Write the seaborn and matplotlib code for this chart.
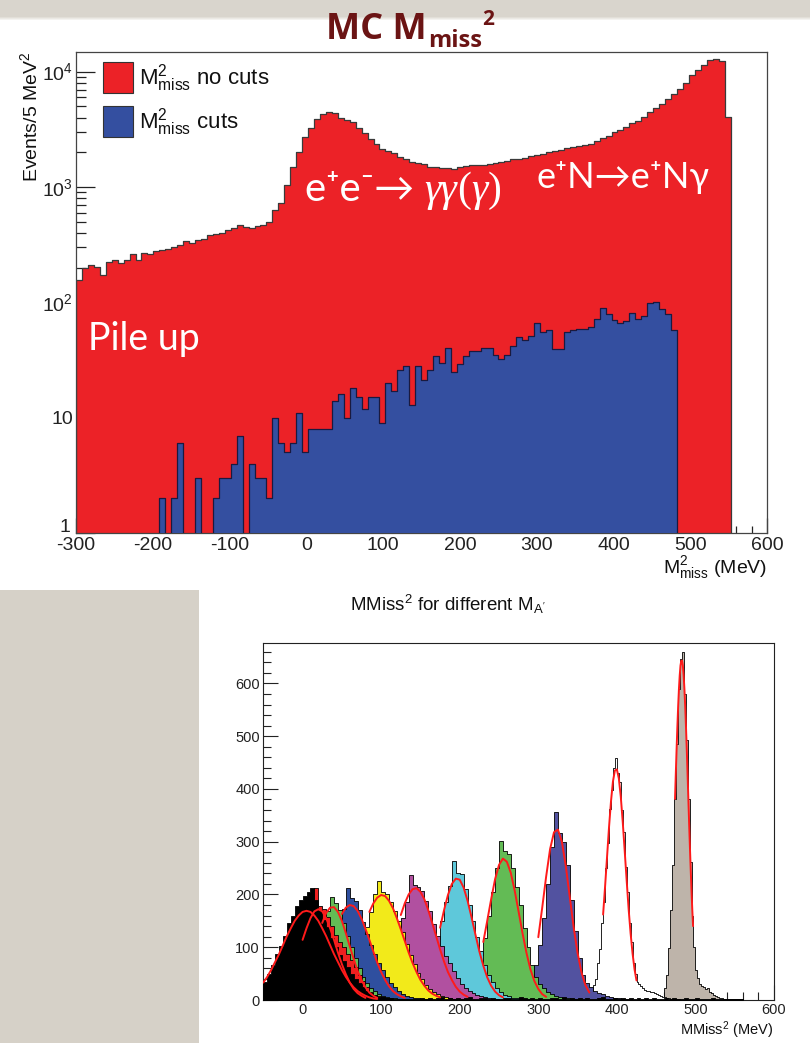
import numpy as np
import matplotlib
matplotlib.use('Agg')
import matplotlib.pyplot as plt
import seaborn as sns
from matplotlib.patches import Rectangle
from matplotlib.ticker import MultipleLocator, FixedLocator, FixedFormatter, NullFormatter

# ---------------- top panel: M2miss, 7.75 MeV bins from -300 MeV ----------------
mm_bin0 = -300.0
mm_binw = 7.75
mm_nocuts = [155, 198, 209, 202, 171, 223, 231, 221, 231, 260,
             231, 267, 264, 278, 285, 292, 301, 312, 338, 326,
             349, 351, 380, 390, 398, 420, 437, 464, 446, 437,
             455, 470, 496, 626, 720, 1030, 1484, 2000, 2700, 3260,
             3894, 4303, 4443, 4355, 3973, 3800, 3639, 3258, 2925, 2614,
             2366, 2142, 2071, 1963, 1813, 1731, 1640, 1621, 1588, 1504,
             1483, 1466, 1454, 1438, 1483, 1514, 1557, 1566, 1557, 1588,
             1621, 1640, 1673, 1731, 1755, 1790, 1849, 1902, 1940, 2029,
             2071, 2100, 2185, 2212, 2287, 2330, 2366, 2527, 2669, 2793,
             2981, 3127, 3294, 3567, 3765, 4077, 4443, 4852, 5254, 5802,
             6413, 7087, 7920, 9420, 10350, 11500, 12630, 12890, 12280, 4077]
mm_cuts_first = 14
mm_cuts = [2, 0, 2, 6, 0, 0, 3, 0, 0, 2, 3, 3, 4, 7, 0, 4, 3, 3, 2, 10, 6, 5, 6,
           11, 5, 8, 8, 8, 8, 14, 16, 10, 18, 15, 12, 15, 15, 9, 20, 17, 26, 28, 13,
           28, 21, 26, 34, 30, 40, 25, 29, 34, 38, 38, 40, 40, 35, 32, 35, 42, 50,
           47, 51, 66, 55, 58, 39, 39, 55, 58, 59,
           59, 61, 71, 89, 79, 70, 66, 69, 81, 72, 76, 99, 100, 88, 79, 57]

# ---------------- bottom panel: MMiss2 for the different A' masses ----------------
black_start, black_w = -50, 5
black_counts = [35, 50, 66, 88, 102, 122, 145, 160, 178, 190, 198, 204, 212, 190, 170,
                152, 138, 118, 100, 86, 74, 62, 50, 40, 32, 25, 18, 13, 9, 6, 5, 4, 3, 2,
                2, 1, 1, 1, 1, 1,
                3, 2, 4, 1, 3, 5, 2, 3, 1, 4, 2, 3, 5, 2, 1, 3, 4, 2, 3, 1,
                2, 4, 3, 1, 2, 5, 3, 2, 4, 1, 3, 2, 1, 4, 3, 2, 5, 1, 3, 2,
                4, 2, 3, 1, 2, 3, 5, 2, 1, 3, 2, 4, 1, 3, 2, 3, 1, 4, 2, 3,
                1, 2, 3, 2, 4, 1, 2, 3, 1, 2, 3, 1, 2, 1, 3, 2, 1, 2, 1, 1, 1, 1]
red_start, red_w = -20, 5
red_counts = [43, 60, 88, 108, 138, 152, 180, 212, 178, 172, 158, 140, 124, 110, 100, 88,
              76, 62, 48, 36, 24, 16, 10, 7, 5, 3, 2]
greena_start, greena_w = 0, 5
greena_counts = [30, 45, 65, 90, 118, 145, 168, 196, 184, 170, 146, 122, 100, 80, 60, 44,
                 32, 23, 17, 12, 8, 5, 4, 3, 2, 1, 1]
blue_start, blue_w = 20, 5
blue_counts = [20, 32, 50, 75, 105, 140, 172, 212, 194, 188, 170, 148, 125, 104, 88, 70,
               56, 44, 32, 24, 17, 12, 8, 6, 4, 3, 2, 1, 1]
yellow_start, yellow_w = 50, 5
yellow_counts = [20, 30, 44, 62, 84, 110, 138, 166, 200, 226, 204, 200, 186, 168, 150, 128,
                 106, 86, 68, 52, 40, 28, 20, 15, 11, 7, 5, 3, 2, 1, 1]
magenta_start, magenta_w = 90, 5
magenta_counts = [18, 28, 40, 56, 76, 100, 126, 156, 186, 236, 218, 214, 206, 188, 168, 144,
                  122, 102, 84, 70, 55, 42, 31, 23, 17, 13, 10, 7, 5, 3, 2, 1]
cyan_start, cyan_w = 145, 5
cyan_counts = [16, 26, 40, 60, 86, 116, 150, 186, 216, 264, 240, 238, 210, 180, 150, 120,
               92, 66, 48, 34, 23, 15, 10, 7, 4, 3, 2, 1, 1]
greenb_start, greenb_w = 200, 5
greenb_counts = [10, 16, 26, 40, 60, 86, 118, 160, 204, 250, 302, 282, 276, 250, 214, 180,
                 136, 100, 66, 44, 30, 22, 16, 12, 8, 6, 4, 3, 2, 1, 1]
indigo_start, indigo_w = 275, 5
indigo_counts = [8, 14, 24, 40, 66, 104, 156, 220, 290, 356, 316, 300, 256, 190, 130, 80,
                 48, 32, 24, 18, 14, 11, 8, 6, 4, 3, 2, 1]
white_start, white_w = 365, 2.5
white_counts = [9, 16, 28, 40, 70, 96, 145, 186, 250, 298, 362, 398, 440, 458, 430, 414,
                360, 318, 252, 205, 146, 110, 70, 50, 34, 30, 26, 22, 19, 18, 17, 16,
                15, 13, 11, 9, 8, 6, 5, 4, 3, 2, 2, 1, 1, 1]
gray_start, gray_w = 460, 2.5
gray_counts = [22, 48, 98, 170, 255, 380, 486, 590, 646, 660, 580, 492, 380, 262, 160, 100,
               56, 42, 30, 26, 24, 20, 22, 16, 14, 10, 7, 5, 4, 3, 2, 2, 1, 1, 1, 1, 1, 1, 1, 1]

# gaussian fits (start, step, values)
black_fit = (-50, 5, [33, 44, 57, 72, 87, 104, 121, 136, 150, 160, 167, 169, 167, 160, 150,
                      136, 121, 104, 87, 72, 57, 44, 33, 24, 17, 12, 8, 5, 3, 2])
red_fit = (0, 5, [114, 136, 155, 168, 172, 168, 155, 136, 114, 90, 68, 49, 33, 21, 13, 8, 4])
greena_fit = (25, 5, [146, 165, 175, 176, 167, 150, 127, 102, 78, 55, 38, 24, 14, 8, 4])
blue_fit = (50, 5, [163, 175, 180, 178, 169, 154, 135, 114, 92, 71, 53, 38, 26, 17, 11, 7, 4])
yellow_fit = (85, 5, [167, 183, 194, 199, 197, 188, 174, 155, 134, 112, 90, 70, 53, 38, 27,
                      18, 12, 8, 5])
magenta_fit = (125, 5, [161, 183, 200, 210, 212, 205, 191, 170, 146, 121, 96, 73, 53, 38, 25,
                        16, 10, 6])
cyan_fit = (175, 5, [137, 170, 199, 220, 230, 228, 213, 188, 157, 124, 92, 65, 43, 27, 16, 9, 5])
greenb_fit = (230, 5, [110, 150, 191, 229, 256, 268, 262, 241, 207, 167, 126, 89, 58, 36, 21,
                       11, 6])
indigo_fit = (300, 5, [119, 175, 234, 286, 318, 323, 300, 254, 196, 138, 89, 52, 28, 14])
white_fit = (382.5, 2.5, [162, 215, 271, 327, 376, 414, 435, 437, 420, 385, 337, 282, 226,
                          172, 126, 88, 58, 37])
gray_fit = (474, 1, [381, 428, 474, 517, 556, 589, 615, 634, 643, 643, 634, 615, 589, 556,
                     517, 474, 428, 381, 334, 289, 247, 207, 171, 140])

# ---------------- style ----------------
sns.set_theme(style='ticks')
plt.rcParams['font.family'] = ['Liberation Sans', 'DejaVu Sans']
plt.rcParams['mathtext.fontset'] = 'custom'
plt.rcParams['mathtext.rm'] = 'Liberation Sans'
plt.rcParams['mathtext.it'] = 'Liberation Sans:italic'
plt.rcParams['mathtext.bf'] = 'Liberation Sans:bold'
plt.rcParams['axes.unicode_minus'] = False

W, H = 810, 1043
fig = plt.figure(figsize=(W / 100, H / 100), dpi=100)
fig.patch.set_facecolor('white')


def hist(ax, start, width, counts, face, edge='black', lw=0.6, z=2):
    counts = np.asarray(counts, dtype=float)
    mids = start + width * (np.arange(len(counts)) + 0.5)
    sns.histplot(x=mids, weights=counts, binwidth=width,
                 binrange=(start, start + width * len(counts)),
                 element='step', fill=True, common_bins=False, common_norm=False,
                 color=face, alpha=1, edgecolor=edge, linewidth=lw, zorder=z, ax=ax)


def fit(ax, spec):
    start, step, vals = spec
    xs = start + step * np.arange(len(vals))
    sns.lineplot(x=xs, y=vals, color='#ff1a1a', linewidth=1.4, zorder=30, ax=ax, legend=False)


# ---------------- top chart ----------------
ax1 = fig.add_axes([76 / W, 1 - 533 / H, (767 - 76) / W, (533 - 52) / H])
hist(ax1, mm_bin0, mm_binw, mm_nocuts, '#ec2227', edge='#3a3a3a', lw=0.9, z=2)
hist(ax1, mm_bin0 + mm_cuts_first * mm_binw, mm_binw, mm_cuts, '#344fa0',
     edge='#1a1a40', lw=0.9, z=3)
ax1.set_yscale('log')
ax1.set_xlim(-300, 600)
ax1.set_ylim(1, 14800)
ax1.set_xlabel('')
ax1.set_ylabel('')
ax1.xaxis.set_major_locator(MultipleLocator(100))
ax1.xaxis.set_minor_locator(MultipleLocator(20))
ax1.yaxis.set_major_locator(FixedLocator([1, 10, 100, 1000, 10000]))
# the "1" label is placed by hand a little higher, as in the original
ax1.yaxis.set_major_formatter(FixedFormatter(['', '10', '$10^{2}$', '$10^{3}$', '$10^{4}$']))
minor = [m * 10 ** d for d in range(0, 5) for m in range(2, 10)]
ax1.yaxis.set_minor_locator(FixedLocator(minor))
ax1.yaxis.set_minor_formatter(NullFormatter())
ax1.tick_params(which='both', direction='in', top=False, right=False, colors='#222222',
                labelsize=14)
ax1.tick_params(axis='y', which='major', length=13.5, width=0.9, pad=2)
ax1.tick_params(axis='y', which='minor', length=7, width=0.9)
ax1.tick_params(axis='x', which='major', length=10.5, width=0.9, pad=3)
ax1.tick_params(axis='x', which='minor', length=5, width=0.9)
for s in ax1.spines.values():
    s.set_color('#444444')
    s.set_linewidth(0.9)

# ---------------- bottom chart (right-hand peaks drawn first) ----------------
ax2 = fig.add_axes([263.3 / W, 1 - 1000 / H, (774 - 263.3) / W, (1000 - 643.3) / H])
hist(ax2, gray_start, gray_w, gray_counts, '#beb4aa', z=2)
hist(ax2, white_start, white_w, white_counts, '#ffffff', z=3)
hist(ax2, indigo_start, indigo_w, indigo_counts, '#5252a0', z=4)
hist(ax2, greenb_start, greenb_w, greenb_counts, '#63bb55', z=5)
hist(ax2, cyan_start, cyan_w, cyan_counts, '#5ec8da', z=6)
hist(ax2, magenta_start, magenta_w, magenta_counts, '#b150a0', z=7)
hist(ax2, yellow_start, yellow_w, yellow_counts, '#f2ea1a', z=8)
hist(ax2, blue_start, blue_w, blue_counts, '#2f4f9f', z=9)
hist(ax2, greena_start, greena_w, greena_counts, '#63bb55', z=10)
hist(ax2, red_start, red_w, red_counts, '#ee2020', z=11)
hist(ax2, black_start, black_w, black_counts, '#000000', z=12)
for spec in [black_fit, red_fit, greena_fit, blue_fit, yellow_fit, magenta_fit,
             cyan_fit, greenb_fit, indigo_fit, white_fit, gray_fit]:
    fit(ax2, spec)
ax2.set_xlim(-50, 600)
ax2.set_ylim(0, 676)
ax2.set_xlabel('')
ax2.set_ylabel('')
ax2.xaxis.set_major_locator(MultipleLocator(100))
ax2.xaxis.set_minor_locator(MultipleLocator(20))
ax2.yaxis.set_major_locator(MultipleLocator(100))
ax2.yaxis.set_minor_locator(MultipleLocator(20))
ax2.tick_params(which='both', direction='in', top=False, right=False, colors='#222222',
                labelsize=10.5)
ax2.tick_params(which='major', length=11, width=0.8, pad=2.5)
ax2.tick_params(which='minor', length=5.5, width=0.8)
for s in ax2.spines.values():
    s.set_color('#222222')
    s.set_linewidth(0.8)

# ---------------- slide decoration and text overlay ----------------
ov = fig.add_axes([0, 0, 1, 1], zorder=5)
ov.set_xlim(0, W)
ov.set_ylim(H, 0)
ov.axis('off')
ov.patch.set_alpha(0)

bg = fig.add_axes([0, 0, 1, 1], zorder=-5)
bg.set_xlim(0, W)
bg.set_ylim(H, 0)
bg.axis('off')
bg.add_patch(Rectangle((0, 0), W, 17, fc='#d9d5cd', ec='none'))
for i, c in enumerate(['#e2dfd8', '#ebe9e4', '#f4f3f0']):
    bg.add_patch(Rectangle((0, 17 + i), W, 1, fc=c, ec='none'))
bg.add_patch(Rectangle((0, 590), 199, H - 590, fc='#d6d1c8', ec='none'))

renderer = fig.canvas.get_renderer()


def put(x, y, s, **kw):
    t = ov.text(x, y, s, **kw)
    return x + t.get_window_extent(renderer=renderer).width


title_kw = dict(color='#6b1414', fontweight='bold', family=['Open Sans', 'DejaVu Sans'],
                va='baseline', ha='left')
x = put(326, 39, 'MC M', fontsize=26, **title_kw)
x2 = put(x + 1, 47, 'miss', fontsize=17, **title_kw)
put(x2 + 1, 25, '2', fontsize=15, **title_kw)

# "1" tick label of the log axis
ov.text(70, 527, '1', fontsize=14, ha='right', va='center', color='#222222')

# legend of the top chart
ov.add_patch(Rectangle((103, 62), 30, 31, fc='#ec2227', ec='#333333', lw=0.8))
ov.add_patch(Rectangle((103, 106), 30, 31, fc='#344fa0', ec='#333333', lw=0.8))
ov.text(139, 78, r'$\mathregular{M^{2}_{miss}}$ no cuts', fontsize=16, va='center', color='#111111')
ov.text(139, 122, r'$\mathregular{M^{2}_{miss}}$ cuts', fontsize=16, va='center', color='#111111')

ov.text(30, 52, r'Events/5 MeV$^{2}$', fontsize=14, rotation=90, ha='center', va='top',
        color='#111111')
ov.text(767, 568, r'$\mathregular{M^{2}_{miss}}$ (MeV)', fontsize=14, ha='right', va='center',
        color='#111111')

# annotations on the top chart
ann = dict(color='white', family=['Lato', 'DejaVu Sans'], va='baseline', ha='left')
serif = dict(color='white', family=['Liberation Serif', 'DejaVu Serif'], va='baseline',
             ha='left', fontsize=30)
x = put(305, 201, 'e\u207ae\u207b\u2192 ', fontsize=29, **ann)
x = put(x, 201, '\u03b3\u03b3', style='italic', **serif)
x = put(x, 201, '(', **serif)
x = put(x, 201, '\u03b3', style='italic', **serif)
put(x, 201, ')', **serif)
put(537, 188, 'e\u207aN\u2192e\u207aN\u03b3', fontsize=26, **ann)
put(88, 350, 'Pile up', fontsize=27, **ann)

# bottom chart texts
ov.text(448, 604, r"MMiss$^{2}$ for different M$_{\mathregular{A'}}$", fontsize=13.5,
        ha='center', va='center', color='#111111')
ov.text(773, 1030, r'MMiss$^{2}$ (MeV)', fontsize=10.5, ha='right', va='center',
        color='#111111')

fig.savefig('out.png', dpi=100)
